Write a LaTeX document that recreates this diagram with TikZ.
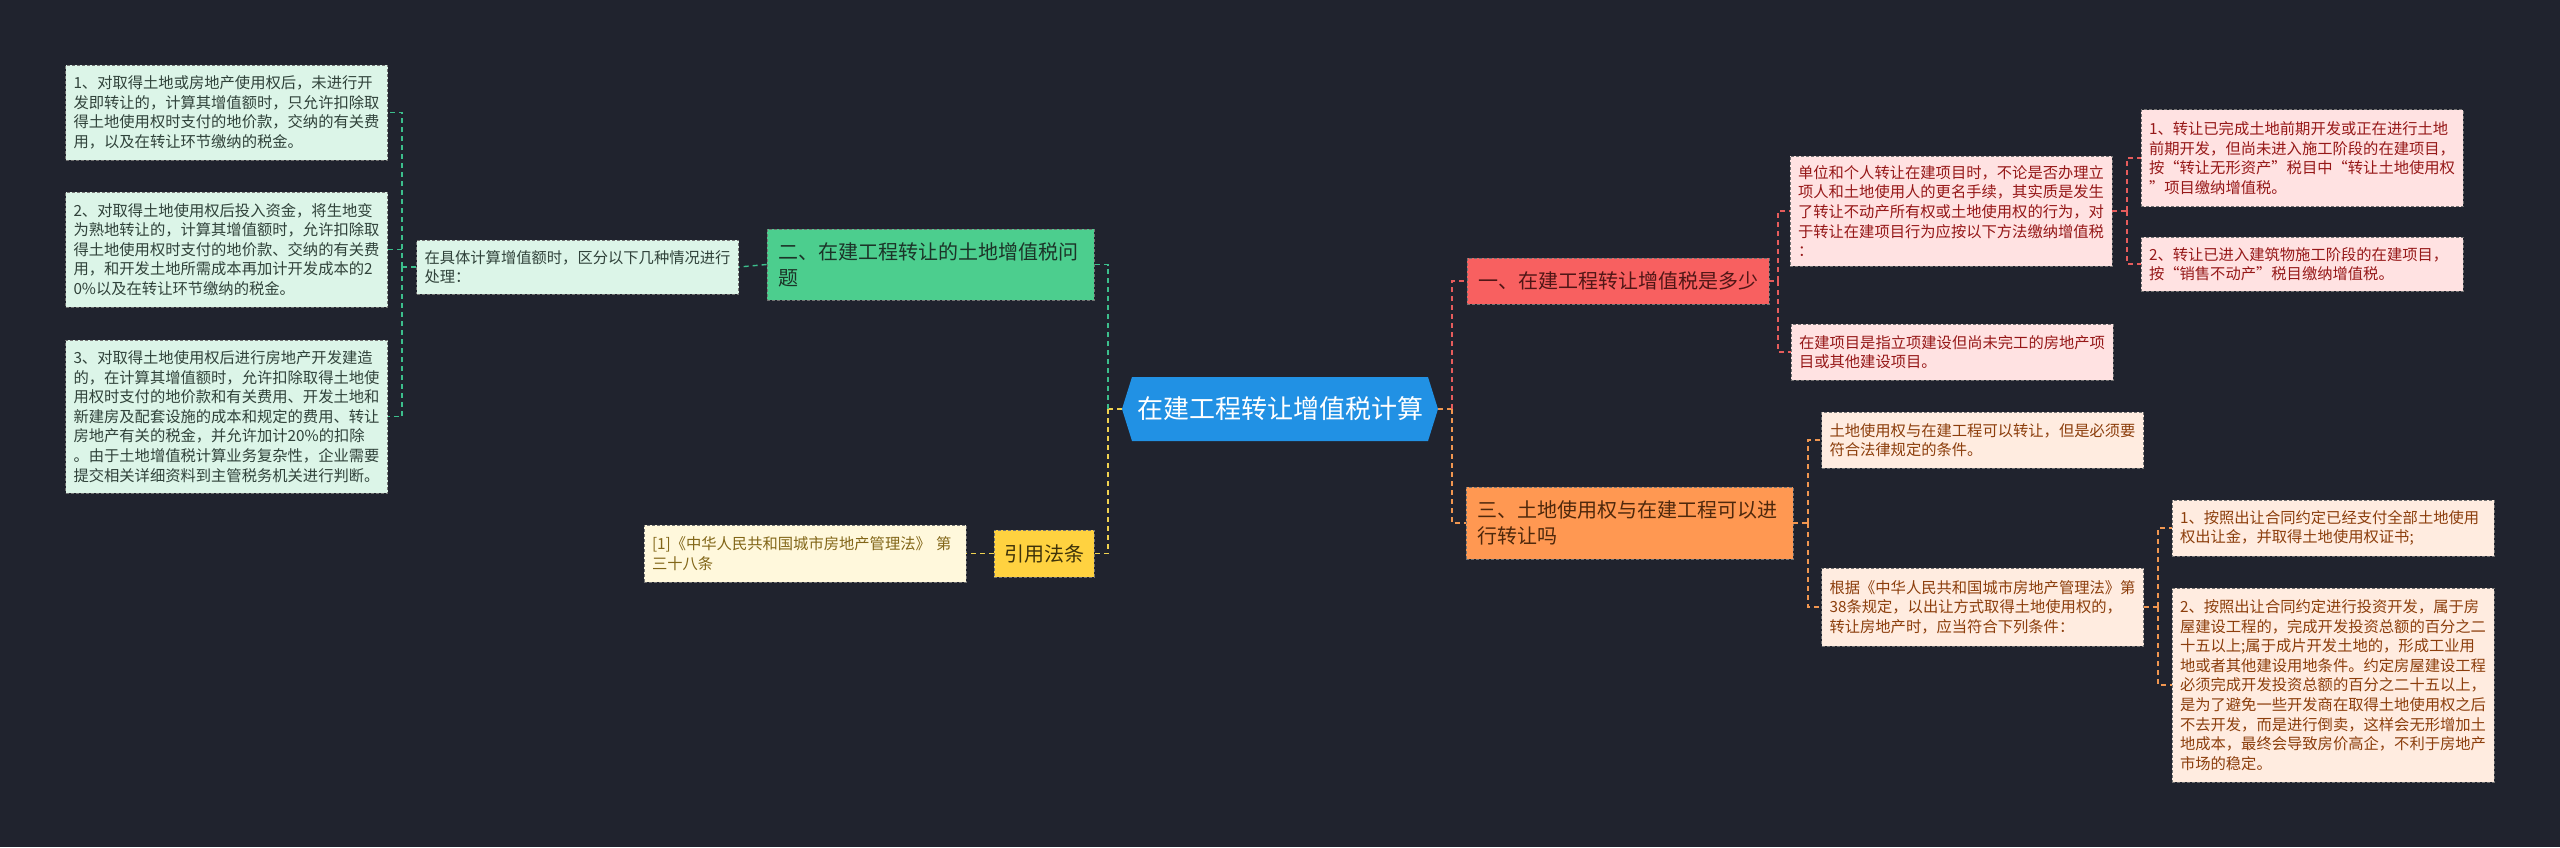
\documentclass[tikz,border=0pt]{standalone}
\usepackage{fontspec}
\setmainfont{Noto Sans CJK SC}
\definecolor{bg}{RGB}{32,35,46}
\definecolor{cblue}{RGB}{33,145,228}
\definecolor{gfill}{RGB}{76,206,142}
\definecolor{gtext}{RGB}{28,52,40}
\definecolor{mint}{RGB}{220,245,232}
\definecolor{minttext}{RGB}{48,66,58}
\definecolor{gline}{RGB}{60,190,140}
\definecolor{rfill}{RGB}{248,96,96}
\definecolor{rtext}{RGB}{80,22,22}
\definecolor{pink}{RGB}{255,226,226}
\definecolor{pinktext}{RGB}{150,24,24}
\definecolor{rline}{RGB}{230,92,92}
\definecolor{ofill}{RGB}{255,152,82}
\definecolor{otext}{RGB}{78,40,12}
\definecolor{peach}{RGB}{255,236,224}
\definecolor{peachtext}{RGB}{140,62,12}
\definecolor{oline}{RGB}{240,150,80}
\definecolor{yfill}{RGB}{255,210,64}
\definecolor{ytext}{RGB}{62,50,10}
\definecolor{cream}{RGB}{255,248,220}
\definecolor{creamtext}{RGB}{130,102,24}
\definecolor{yline}{RGB}{240,210,80}
\begin{document}
\begin{tikzpicture}[x=1pt,y=-1pt,
  box/.style={draw=black!55, dash pattern=on 3pt off 2pt, line width=0.8pt, inner ysep=0pt, align=left, anchor=center},
  leafbox/.style={box, inner xsep=8pt, font=\fontsize{15.3}{19.6}\selectfont, text width=306pt},
  mintleaf/.style={leafbox, fill=mint, text=minttext},
  pinkleaf/.style={leafbox, fill=pink, text=pinktext},
  peachleaf/.style={leafbox, fill=peach, text=peachtext},
  creamleaf/.style={leafbox, fill=cream, text=creamtext},
  branchbox/.style={box, inner xsep=11pt, font=\fontsize{20}{26}\selectfont},
  con/.style={line width=1.4pt, dash pattern=on 5pt off 4pt},
  cong/.style={con, draw=gline},
  conr/.style={con, draw=rline},
  cono/.style={con, draw=oline},
  cony/.style={con, draw=yline}
]
\fill[bg] (0,0) rectangle (2560,847);

% center
\fill[cblue] (1122,409) -- (1132,377) -- (1428,377) -- (1438,409) -- (1428,441) -- (1132,441) -- cycle;
\node[text=white, font=\fontsize{26}{32}\selectfont, minimum width=316pt, minimum height=64pt, inner sep=0pt] (C) at (1280,409) {在建工程转让增值税计算};

% left branch
\node[branchbox, fill=gfill, text=gtext, text width=305pt, minimum height=71pt] (B2) at (930.5,264.5) {二、在建工程转让的土地增值税问\\题};
\node[mintleaf, minimum height=54pt] (G0) at (577.5,267) {在具体计算增值额时，区分以下几种情况进行\\处理：};
\node[mintleaf, minimum height=95pt] (L1) at (226.5,112.5) {1、对取得土地或房地产使用权后，未进行开\\发即转让的，计算其增值额时，只允许扣除取\\得土地使用权时支付的地价款，交纳的有关费\\用，以及在转让环节缴纳的税金。};
\node[mintleaf, minimum height=115pt] (L2) at (226.5,249.5) {2、对取得土地使用权后投入资金，将生地变\\为熟地转让的，计算其增值额时，允许扣除取\\得土地使用权时支付的地价款、交纳的有关费\\用，和开发土地所需成本再加计开发成本的2\\0\%以及在转让环节缴纳的税金。};
\node[mintleaf, minimum height=153pt] (L3) at (226.5,416.5) {3、对取得土地使用权后进行房地产开发建造\\的，在计算其增值额时，允许扣除取得土地使\\用权时支付的地价款和有关费用、开发土地和\\新建房及配套设施的成本和规定的费用、转让\\房地产有关的税金，并允许加计20\%的扣除\\。由于土地增值税计算业务复杂性，企业需要\\提交相关详细资料到主管税务机关进行判断。};
\node[branchbox, fill=yfill, text=ytext, inner xsep=10pt, minimum height=47pt] (Y) at (1044,553.5) {引用法条};
\node[creamleaf, minimum height=57pt] (Cite) at (805,553.5) {[1]《中华人民共和国城市房地产管理法》 第\\三十八条};

% right branch
\node[branchbox, fill=rfill, text=rtext, minimum height=46pt] (R) at (1618,281) {一、在建工程转让增值税是多少};
\node[pinkleaf, minimum height=110pt] (P1) at (1951,211) {单位和个人转让在建项目时，不论是否办理立\\项人和土地使用人的更名手续，其实质是发生\\了转让不动产所有权或土地使用权的行为，对\\于转让在建项目行为应按以下方法缴纳增值税\\：};
\node[pinkleaf, minimum height=56pt] (P2) at (1952,352) {在建项目是指立项建设但尚未完工的房地产项\\目或其他建设项目。};
\node[pinkleaf, minimum height=97pt] (S1) at (2302,158) {1、转让已完成土地前期开发或正在进行土地\\前期开发，但尚未进入施工阶段的在建项目，\\按“转让无形资产”税目中“转让土地使用权\\”项目缴纳增值税。};
\node[pinkleaf, minimum height=54pt] (S2) at (2302,264) {2、转让已进入建筑物施工阶段的在建项目，\\按“销售不动产”税目缴纳增值税。};

\node[branchbox, fill=ofill, text=otext, text width=305pt, minimum height=72pt] (O) at (1629.5,523) {三、土地使用权与在建工程可以进\\行转让吗};
\node[peachleaf, minimum height=56pt] (O1) at (1982.5,440) {土地使用权与在建工程可以转让，但是必须要\\符合法律规定的条件。};
\node[peachleaf, minimum height=78pt] (O2) at (1982.5,607) {根据《中华人民共和国城市房地产管理法》第\\38条规定，以出让方式取得土地使用权的，\\转让房地产时，应当符合下列条件：};
\node[peachleaf, minimum height=56pt] (Q1) at (2333,528) {1、按照出让合同约定已经支付全部土地使用\\权出让金，并取得土地使用权证书;};
\node[peachleaf, minimum height=194pt] (Q2) at (2333,685) {2、按照出让合同约定进行投资开发，属于房\\屋建设工程的，完成开发投资总额的百分之二\\十五以上;属于成片开发土地的，形成工业用\\地或者其他建设用地条件。约定房屋建设工程\\必须完成开发投资总额的百分之二十五以上，\\是为了避免一些开发商在取得土地使用权之后\\不去开发，而是进行倒卖，这样会无形增加土\\地成本，最终会导致房价高企，不利于房地产\\市场的稳定。};

% junctions
\coordinate (JL) at (1108,409);
\coordinate (JG) at (402,267);
\coordinate (JR) at (1452,409);
\coordinate (JR1) at (1778,281);
\coordinate (JP) at (2127,211);
\coordinate (JO) at (1808,523);
\coordinate (JQ) at (2158,607);

% connectors
\draw[cony] (C.west) -- (JL);
\draw[cong] (JL) |- (B2.east);
\draw[cony] (JL) |- (Y.east);
\draw[cony] (Y.west) -- (Cite.east);
\draw[cong] (B2.west) -- (G0.east);
\draw[cong] (G0.west) -- (JG);
\draw[cong] (JG) |- (L1.east);
\draw[cong] (JG) |- (L2.east);
\draw[cong] (JG) |- (L3.east);

\draw[cono] (C.east) -- (JR);
\draw[conr] (JR) |- (R.west);
\draw[cono] (JR) |- (O.west);
\draw[conr] (R.east) -- (JR1);
\draw[conr] (JR1) |- (P1.west);
\draw[conr] (JR1) |- (P2.west);
\draw[conr] (P1.east) -- (JP);
\draw[conr] (JP) |- (S1.west);
\draw[conr] (JP) |- (S2.west);
\draw[cono] (O.east) -- (JO);
\draw[cono] (JO) |- (O1.west);
\draw[cono] (JO) |- (O2.west);
\draw[cono] (O2.east) -- (JQ);
\draw[cono] (JQ) |- (Q1.west);
\draw[cono] (JQ) |- (Q2.west);
\end{tikzpicture}
\end{document}
